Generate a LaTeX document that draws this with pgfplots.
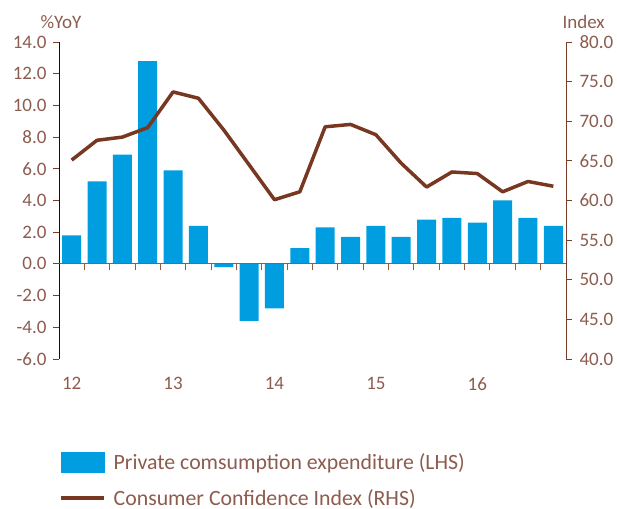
\documentclass[border=0pt]{standalone}
\usepackage{pgfplots}
\pgfplotsset{compat=1.18}
\usepackage{pgfplotstable}
\usepackage{fontspec}
\setmainfont{Carlito}

\definecolor{barblue}{RGB}{0,158,224}
\definecolor{cci}{RGB}{120,55,33}
\definecolor{txt}{RGB}{140,92,78}
\definecolor{axl}{RGB}{120,62,42}
\definecolor{zl}{RGB}{150,90,70}

% quarter index, private consumption %YoY, consumer confidence index
\pgfplotstableread{
x  pce   cci
0  1.8   65.1
1  5.2   67.6
2  6.9   68.0
3  12.8  69.2
4  5.9   73.7
5  2.4   72.9
6  -0.2  68.9
7  -3.6  64.5
8  -2.8  60.1
9  1.0   61.1
10 2.3   69.3
11 1.7   69.6
12 2.4   68.3
13 1.7   64.7
14 2.8   61.7
15 2.9   63.6
16 2.6   63.4
17 4.0   61.1
18 2.9   62.4
19 2.4   61.8
}\datatable

\begin{document}
\begin{tikzpicture}[font=\fontsize{19}{22}\selectfont]
\useasboundingbox (-59pt,-149pt) rectangle (558pt,359pt);
\pgfplotsset{
  base/.style={
    at={(0pt,0pt)}, anchor=south west,
    scale only axis, width=507pt, height=317pt,
    xmin=-0.5, xmax=19.5,
    tick align=outside, major tick length=6pt,
    tick label style={text=txt},
    /pgf/number format/assume math mode=true,
  },
}

% left axis: bars
\begin{axis}[base,
  ymin=-6, ymax=14, ytick={-6,-4,...,14},
  axis y line*=left, axis x line*=bottom,
  x axis line style={draw=none},
  xtick={0,4,8,12,16}, xticklabels={12,13,14,15,16},
  xtick style={draw=none},
  xticklabel style={yshift=-9pt},
  y axis line style={color=black!80!axl, line width=0.9pt},
  ytick style={color=axl, line width=0.9pt},
  yticklabel style={xshift=-3pt, /pgf/number format/.cd, fixed, fixed zerofill, precision=1},
  ylabel={\%YoY},
  ylabel style={at={(axis description cs:0,1)}, rotate=-90, anchor=south, yshift=10pt, xshift=2pt, text=txt},
]
\addplot[ybar, bar width=19pt, fill=barblue, draw=none] table[x=x, y=pce] {\datatable};
% zero line and the category tick marks below it
\addplot[zl, line width=1pt] coordinates {(-0.5,0) (19.5,0)};
\addplot[ycomb, zl, line width=1pt, mark=none] coordinates {
  (0.5,-0.38) (1.5,-0.38) (2.5,-0.38) (3.5,-0.38) (4.5,-0.38)
  (5.5,-0.38) (6.5,-0.38) (7.5,-0.38) (8.5,-0.38) (9.5,-0.38)
  (10.5,-0.38) (11.5,-0.38) (12.5,-0.38) (13.5,-0.38) (14.5,-0.38)
  (15.5,-0.38) (16.5,-0.38) (17.5,-0.38) (18.5,-0.38)};
\end{axis}

% right axis: line
\begin{axis}[base,
  ymin=40, ymax=80, ytick={40,45,...,80},
  axis y line*=right, axis x line=none,
  y axis line style={color=axl, line width=0.9pt},
  ytick style={color=axl, line width=0.9pt},
  yticklabel style={xshift=4pt, /pgf/number format/.cd, fixed, fixed zerofill, precision=1},
  ylabel={Index},
  ylabel style={at={(axis description cs:1,1)}, rotate=-90, anchor=south west, yshift=10pt, xshift=-7pt, text=txt},
  legend style={at={(axis description cs:0,-0.292)}, anchor=north west,
    draw=none, fill=none, inner sep=0pt,
    font=\fontsize{21.8}{24}\selectfont, text=txt, row sep=14pt},
  legend cell align=left,
]
\addlegendimage{legend image code/.code={\fill[barblue] (0pt,-10pt) rectangle (43pt,10pt); \path (49pt,0pt);}}
\addlegendentry{Private comsumption expenditure (LHS)}
\addplot[cci, line width=3.5pt, line join=round,
  legend image code/.code={\draw[cci, line width=3.5pt] (0pt,0pt) -- (43pt,0pt); \path (49pt,0pt);}]
  table[x=x, y=cci] {\datatable};
\addlegendentry{Consumer Confidence Index (RHS)}
\end{axis}
\end{tikzpicture}
\end{document}
